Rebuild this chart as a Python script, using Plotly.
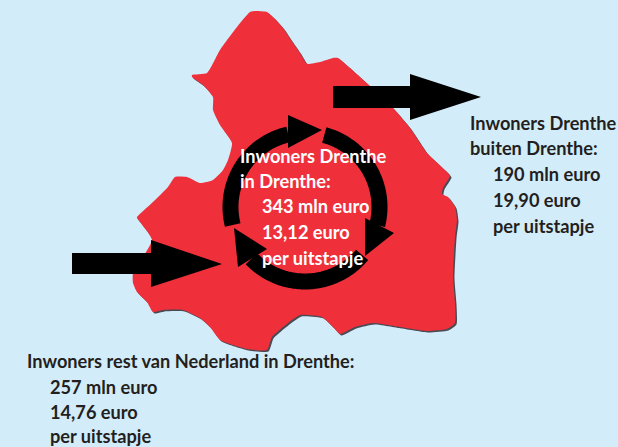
import numpy as np
import plotly.graph_objects as go

# Province outline
outline_x = [250,256,267,275,283,291,300,306,308,320,333,338,350,370,393,410,427,447,450,443,442,448,455,457,455,453,455,455,447,427,400,373,355,340,333,322,300,283,272,267,247,233,220,210,200,183,163,153,147,137,133,133,152,137,137,153,168,175,187,200,213,223,228,232,220,213,213,203,192,192,207,220,237,250]
outline_y = [12,11,12,19,28,40,53,63,64,62,58,58,68,86,108,128,153,172,176,188,194,197,207,220,237,277,303,323,329,331,327,323,327,334,327,317,315,327,337,350,349,345,340,327,318,310,310,312,302,292,283,273,240,218,217,202,187,177,177,183,180,170,160,143,125,110,97,85,77,75,73,50,27,12]

right_arrow_x = [333,410,410,481,410,410,333]
right_arrow_y = [86,86,74,97,120,108,108]
left_arrow_x = [72,151,151,222,151,151,72]
left_arrow_y = [253,253,240,264,287,274,274]

ring_cx, ring_cy, ring_r = 305, 207, 74.5
arc_starts = [166, 285, 40]
arc_ends = [257, 374, 136]
head_x = [[288,322,288],[365,394,365],[267,234,238]]
head_y = [[115,130,148],[218,233,256],[249,228,267]]

labels_dark_right = ["Inwoners Drenthe","buiten Drenthe:","190 mln euro","19,90 euro","per uitstapje"]
labels_white = ["Inwoners Drenthe","in Drenthe:","343 mln euro","13,12 euro","per uitstapje"]
labels_dark_left = ["Inwoners rest van Nederland in Drenthe:","257 mln euro","14,76 euro","per uitstapje"]

FONT = "Lato"
BG, RED, INK = "#d3ecfa", "#ef2f3a", "#231f20"

fig = go.Figure()
def poly(x, y, color, smooth=False):
    line = dict(width=0, color=color)
    if smooth:
        line.update(shape="spline", smoothing=0.5)
    fig.add_trace(go.Scatter(x=x, y=y, mode="lines", fill="toself", fillcolor=color,
                             line=line, hoverinfo="skip", showlegend=False))

poly([v + 1.5 for v in outline_x], [v + 1.5 for v in outline_y], "#4a4a55", True)
poly(outline_x, outline_y, RED, True)
poly(right_arrow_x, right_arrow_y, "#000000")
poly(left_arrow_x, left_arrow_y, "#000000")

for a0, a1, hx, hy in zip(arc_starts, arc_ends, head_x, head_y):
    t = np.radians(np.linspace(a0, a1, 80))
    fig.add_trace(go.Scatter(x=ring_cx + ring_r * np.cos(t), y=ring_cy + ring_r * np.sin(t), mode="lines",
                             line=dict(width=16, color="#000000", simplify=False),
                             hoverinfo="skip", showlegend=False))
    poly(hx, hy, "#000000")

def block(lines, xs, ys, color):
    for s, x, y in zip(lines, xs, ys):
        fig.add_annotation(x=x, y=y, text="<b>%s</b>" % s, showarrow=False, xanchor="left", yanchor="middle",
                           font=dict(family=FONT, size=18.2, color=color), borderpad=0, borderwidth=0)

block(labels_dark_right, [470,470,493,493,493], [123,148,174,200,226], INK)
block(labels_white, [240,240,262,262,262], [156,181,206,232,258], "#ffffff")
block(labels_dark_left, [27,50,50,50], [361,387,412,436], INK)

fig.update_layout(width=618, height=447, margin=dict(l=0, r=0, t=0, b=0), paper_bgcolor=BG, plot_bgcolor=BG,
                  xaxis=dict(range=[0,618], visible=False, fixedrange=True),
                  yaxis=dict(range=[447,0], visible=False, fixedrange=True), showlegend=False)
fig.write_html("out.html", post_script="document.body.style.margin='0';document.body.style.background='%s';" % BG,
               config=dict(displayModeBar=False))
